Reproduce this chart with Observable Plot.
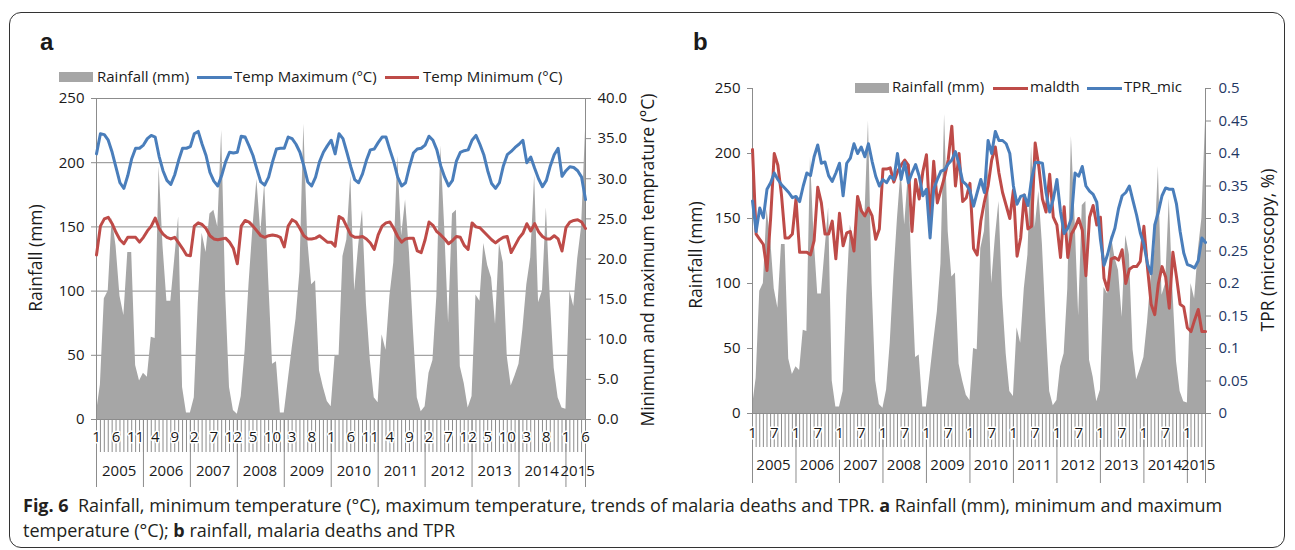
<!DOCTYPE html>
<html><head><meta charset="utf-8">
<script src="https://cdn.jsdelivr.net/npm/d3@7"></script>
<script src="https://cdn.jsdelivr.net/npm/@observablehq/plot@0.6"></script>
<style>
body{margin:0;background:#fff;}
#fig{position:relative;width:1295px;height:550px;overflow:hidden;font-family:"Open Sans",sans-serif;color:#1a1a1a;}
.abs{position:absolute;white-space:nowrap;line-height:1;}
.sw{position:absolute;}
.lg{position:absolute;white-space:nowrap;line-height:1;font-size:15px;}
.title{position:absolute;white-space:nowrap;line-height:1;font-size:17.5px;}
.plbl{position:absolute;font-family:"Liberation Sans",Arial,sans-serif;font-weight:bold;font-size:24px;line-height:1;}
#border{position:absolute;left:9px;top:12px;width:1276px;height:536px;border:1px solid #333;border-radius:12px;box-sizing:border-box;}
#caption{position:absolute;left:23px;top:493px;font-size:18px;line-height:25px;color:#231f20;white-space:nowrap;}
</style></head><body><div id="fig">
<div id="border"></div>
<div class="plbl" style="left:40px;top:30px;">a</div>
<div class="plbl" style="left:693px;top:30px;">b</div>

<div class="sw" style="left:59px;top:72px;width:34px;height:10px;background:#a6a6a6;"></div>
<div class="lg" style="left:97px;top:68.5px;">Rainfall (mm)</div>
<div class="sw" style="left:197px;top:75.5px;width:35px;height:3px;background:#4a7ebb;"></div>
<div class="lg" style="left:234px;top:68.5px;">Temp Maximum (°C)</div>
<div class="sw" style="left:385px;top:75.5px;width:34px;height:3px;background:#be4b48;"></div>
<div class="lg" style="left:423px;top:68.5px;">Temp Minimum (°C)</div>

<div class="sw" style="left:855px;top:83px;width:34px;height:10px;background:#a6a6a6;"></div>
<div class="lg" style="left:892px;top:79px;">Rainfall (mm)</div>
<div class="sw" style="left:993px;top:86.5px;width:35px;height:3px;background:#be4b48;"></div>
<div class="lg" style="left:1030px;top:79px;">maldth</div>
<div class="sw" style="left:1087px;top:86.5px;width:35px;height:3px;background:#4a7ebb;"></div>
<div class="lg" style="left:1124px;top:79px;">TPR_mic</div>

<div class="title" style="left:36px;top:258px;transform:translate(-50%,-50%) rotate(-90deg);">Rainfall (mm)</div>
<div class="title" style="left:648px;top:260px;transform:translate(-50%,-50%) rotate(-90deg);">Minimum and maximum temprature (°C)</div>
<div class="title" style="left:696px;top:255px;transform:translate(-50%,-50%) rotate(-90deg);">Rainfall (mm)</div>
<div class="title" style="left:1268px;top:250px;transform:translate(-50%,-50%) rotate(-90deg);">TPR (microscopy, %)</div>

<div id="pa" style="position:absolute;left:0;top:0;"></div>
<div id="pb" style="position:absolute;left:660px;top:0;"></div>

<div id="caption"><b>Fig. 6</b>&nbsp; Rainfall, minimum temperature (°C), maximum temperature, trends of malaria deaths and TPR. <b>a</b> Rainfall (mm), minimum and maximum<br>temperature (°C); <b>b</b> rainfall, malaria deaths and TPR</div>
</div>
<script>
// ---- data (monthly, Jan 2005 - Jun 2015) ----
const years = ["2005","2006","2007","2008","2009","2010","2011","2012","2013","2014","2015"];
const monthNumbers = [1,2,3,4,5,6,7,8,9,10,11,12];
const rainfall = [
  5,27,94,100,157,135,96,81,130,130,42,30,
  36,33,64,63,197,135,92,92,125,158,25,5,
  5,17,90,145,130,160,163,150,225,100,25,7,
  4,18,54,106,150,187,145,184,110,43,45,5,
  5,30,55,78,115,230,140,105,108,38,25,14,
  10,50,49,127,140,190,100,135,163,90,46,17,
  13,66,54,96,122,205,143,171,130,70,17,6,
  10,36,46,96,213,150,75,160,163,41,28,9,
  18,97,92,137,120,110,74,137,122,49,26,34,
  43,70,105,126,190,91,100,165,95,40,17,9,
  8,100,88,125,150,225
];
const tmax = [
  33.1,35.6,35.5,34.8,33.3,31.4,29.5,28.8,30.4,32.5,33.8,33.8,
  34.2,35.0,35.4,35.2,32.8,31.0,29.8,29.3,30.5,32.3,33.8,33.8,
  34.0,35.6,35.9,34.3,32.9,30.8,29.7,29.1,30.4,32.1,33.3,33.2,
  33.3,35.3,35.2,34.1,32.9,31.2,29.6,29.2,30.2,32.1,33.7,33.8,
  33.8,35.2,35.0,34.3,33.3,31.6,29.6,29.1,30.2,32.1,33.3,34.1,
  34.8,33.1,35.6,35.0,33.3,31.5,29.9,29.5,30.6,32.3,33.6,33.7,
  34.5,35.2,35.2,33.6,32.1,30.2,29.1,29.5,31.5,33.2,33.7,33.8,
  34.2,35.3,34.8,33.6,31.6,30.2,29.1,29.8,32.2,33.3,33.5,33.6,
  34.8,35.4,34.3,33.0,31.0,29.4,28.8,29.5,31.6,33.0,33.4,33.9,
  34.3,34.8,32.0,32.7,31.3,30.0,29.0,29.8,31.6,33.0,33.8,30.3,
  31.0,31.5,31.4,31.0,30.2,27.4
];
const tmin = [
  20.5,24.1,25.0,25.2,24.4,23.3,22.4,21.9,22.7,22.7,22.7,22.1,
  22.7,23.5,24.1,25.1,23.8,23.1,22.7,22.5,22.7,22.0,21.3,20.5,
  20.4,24.1,24.5,24.3,23.8,22.9,22.5,22.4,22.5,22.6,22.1,21.3,
  19.4,24.1,24.8,24.6,24.1,23.5,22.9,22.7,22.9,23.0,22.9,22.7,
  21.5,24.1,24.9,24.6,23.8,22.9,22.5,22.5,22.6,22.9,22.5,22.1,
  22.1,21.6,25.3,25.0,24.0,23.0,22.7,22.7,22.8,22.5,22.0,21.2,
  23.0,24.1,24.5,24.6,23.8,22.8,22.1,22.5,22.6,22.6,21.0,20.8,
  22.4,24.6,24.2,23.4,23.0,22.5,21.9,22.3,22.8,22.7,21.7,21.2,
  24.5,24.0,23.9,23.4,22.9,22.4,22.0,22.4,22.7,22.8,20.8,21.7,
  22.6,23.2,24.4,23.5,24.4,23.4,22.8,22.5,22.5,22.9,22.5,21.0,
  23.9,24.6,24.8,24.9,24.6,23.8
];
const maldth = [
  203,138,134,130,110,150,200,191,168,135,135,138,
  165,124,124,124,122,133,174,162,138,138,148,119,
  154,129,139,140,125,167,156,152,158,152,134,142,
  188,188,189,178,186,191,195,191,140,180,165,186,
  199,148,194,162,172,182,195,221,175,200,163,166,
  177,127,122,148,163,175,195,205,185,170,160,150,
  172,121,135,168,142,144,208,190,165,155,184,151,
  145,120,159,120,138,143,150,141,106,151,160,145,
  151,104,95,119,120,118,126,100,111,113,113,117,
  144,112,84,76,100,113,105,81,124,105,84,82,
  66,63,72,80,63,63
];
const tpr = [
  .327,.28,.316,.301,.345,.355,.37,.36,.352,.346,.34,.332,
  .334,.326,.35,.37,.366,.395,.413,.385,.387,.366,.357,.37,
  .385,.335,.385,.393,.415,.40,.41,.395,.415,.388,.365,.35,
  .36,.355,.365,.36,.40,.36,.386,.355,.37,.383,.365,.335,
  .345,.27,.345,.36,.373,.375,.384,.39,.403,.383,.357,.352,
  .343,.319,.34,.36,.34,.42,.40,.434,.42,.42,.415,.40,
  .35,.322,.334,.336,.32,.36,.386,.386,.385,.34,.31,.33,
  .36,.31,.277,.285,.30,.37,.365,.38,.35,.342,.337,.325,
  .268,.228,.245,.268,.285,.315,.335,.34,.35,.327,.305,.278,
  .26,.23,.215,.29,.31,.335,.347,.345,.345,.322,.28,.247,
  .229,.227,.224,.235,.27,.263
];
const rainTicks = [0,50,100,150,200,250];
const tempTicks = [0,5,10,15,20,25,30,35,40];
const tprTicks = [0,0.05,0.1,0.15,0.2,0.25,0.3,0.35,0.4,0.45,0.5];

// ---- build ----
const N = rainfall.length;
const idx = d3.range(N);
const rows = idx.map(i => ({i, rain: rainfall[i], tmax: tmax[i], tmin: tmin[i], maldth: maldth[i], tpr: tpr[i], month: monthNumbers[i % 12]}));
const yearStarts = years.map((y, k) => k * 12).concat([N - 1]);
const yearCenters = years.map((y, k) => ({y, x: k === years.length - 1 ? 123 : k * 12 + 5.8}));
const GRID = "#8c8c8c";
const INK = "#1a1a1a";
const BLUE = "#4a7ebb", RED = "#be4b48", AREA = "#a6a6a6";
const tempK = 250 / 40;
const tprK = 250 / 0.5;
const font = {fontFamily: '"Open Sans", sans-serif', fontSize: "15px", background: "transparent", color: INK, overflow: "visible"};

function xAxisMarks(labelStep, tickLen, yearLen, monthDy, yearDy) {
  const labelIdx = idx.filter(i => i % labelStep === 0);
  return [
    Plot.axisX(idx, {anchor: "bottom", tickSize: tickLen, tickFormat: () => "", stroke: GRID, label: null}),
    Plot.axisX(yearStarts, {anchor: "bottom", tickSize: yearLen, tickFormat: () => "", stroke: GRID, label: null}),
    Plot.text(labelIdx, {x: d => d, text: d => String(rows[d].month), frameAnchor: "bottom", dy: monthDy, fill: INK, stroke: "white", strokeWidth: 3, fontSize: 15}),
    Plot.text(yearCenters, {x: "x", text: "y", frameAnchor: "bottom", dy: yearDy, fill: INK, fontSize: 15})
  ];
}

const plotA = Plot.plot({
  width: 660, height: 500,
  marginLeft: 96, marginRight: 75, marginTop: 98, marginBottom: 81,
  x: {domain: [0, N - 1], axis: null},
  y: {domain: [0, 250], axis: null},
  style: font,
  marks: [
    Plot.ruleY(rainTicks, {stroke: GRID, strokeWidth: 1}),
    Plot.areaY(rows, {x: "i", y: "rain", fill: AREA}),
    Plot.ruleX([0, N - 1], {stroke: GRID}),
    Plot.line(rows, {x: "i", y: d => d.tmax * tempK, stroke: BLUE, strokeWidth: 3, strokeLinejoin: "round"}),
    Plot.line(rows, {x: "i", y: d => d.tmin * tempK, stroke: RED, strokeWidth: 3, strokeLinejoin: "round"}),
    Plot.axisY(rainTicks, {anchor: "left", tickSize: 5, tickPadding: 7, stroke: GRID, fill: INK, label: null}),
    Plot.axisY(tempTicks.map(v => v * tempK), {anchor: "right", tickSize: 5, tickPadding: 7, stroke: GRID, fill: INK, label: null, tickFormat: d => (d / tempK).toFixed(1)}),
    ...xAxisMarks(5, 33, 68, 22, 56)
  ]
});
document.getElementById("pa").appendChild(plotA);

const plotB = Plot.plot({
  width: 635, height: 500,
  marginLeft: 92, marginRight: 90, marginTop: 88, marginBottom: 87,
  x: {domain: [0, N - 1], axis: null},
  y: {domain: [0, 250], axis: null},
  style: font,
  marks: [
    Plot.areaY(rows, {x: "i", y: "rain", fill: AREA}),
    Plot.ruleY([0], {stroke: GRID}),
    Plot.ruleX([0, N - 1], {stroke: GRID}),
    Plot.line(rows, {x: "i", y: "maldth", stroke: RED, strokeWidth: 3, strokeLinejoin: "round"}),
    Plot.line(rows, {x: "i", y: d => d.tpr * tprK, stroke: BLUE, strokeWidth: 3, strokeLinejoin: "round"}),
    Plot.axisY(rainTicks, {anchor: "left", tickSize: 5, tickPadding: 7, stroke: GRID, fill: INK, label: null}),
    Plot.axisY(tprTicks.map(v => v * tprK), {anchor: "right", tickSize: 5, tickPadding: 8, stroke: GRID, fill: "#1f3864", label: null, tickFormat: d => String(+(d / tprK).toFixed(2))}),
    ...xAxisMarks(6, 34, 70, 24, 56)
  ]
});
document.getElementById("pb").appendChild(plotB);
</script>
</body></html>
